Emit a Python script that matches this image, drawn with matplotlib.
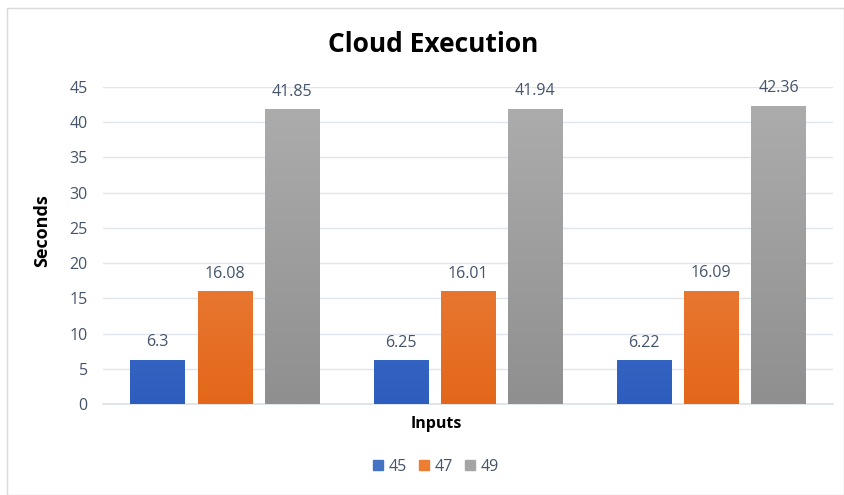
import matplotlib
matplotlib.use("Agg")
import matplotlib.pyplot as plt
import numpy as np
from matplotlib.patches import Rectangle
from matplotlib.colors import LinearSegmentedColormap

categories = ["1", "2", "3"]
series_names = ["45", "47", "49"]
values_45 = [6.3, 6.25, 6.22]
values_47 = [16.08, 16.01, 16.09]
values_49 = [41.85, 41.94, 42.36]
series_values = [values_45, values_47, values_49]
value_labels = [["6.3", "6.25", "6.22"], ["16.08", "16.01", "16.09"], ["41.85", "41.94", "42.36"]]
y_ticks = [0, 5, 10, 15, 20, 25, 30, 35, 40, 45]

colors_top = ["#5E8BD8", "#F29257", "#AEAEAE"]
colors_bot = ["#2D5DBE", "#E3671A", "#8F8F8F"]
legend_colors = ["#4472C4", "#ED7D31", "#A5A5A5"]
text_col = "#44546A"

plt.rcParams['font.family'] = ['Open Sans', 'DejaVu Sans']

fig = plt.figure(figsize=(8.44, 4.95), dpi=100)
fig.patches.append(Rectangle((7/844, 0), 1 - 7/844, 1 - 8/495, transform=fig.transFigure,
                             fill=False, edgecolor="#D9D9D9", linewidth=1.0))
ax = fig.add_axes([103/844, 1 - 404/495, 730/844, (404 - 87)/495])

x = np.arange(len(categories))
offset = 0.276
width = 0.222
for i, (vals, name) in enumerate(zip(series_values, series_names)):
    pos = x + (i - 1) * offset
    bars = ax.bar(pos, vals, width, color="none", edgecolor="none", label=name, zorder=3)
    cmap = LinearSegmentedColormap.from_list("g%d" % i, [colors_bot[i], colors_top[i]])
    for b, lab in zip(bars, value_labels[i]):
        x0, w, h = b.get_x(), b.get_width(), b.get_height()
        grad = np.linspace(0, 1, 256).reshape(-1, 1)
        im = ax.imshow(grad, cmap=cmap, origin="lower", aspect="auto",
                       extent=(x0, x0 + w, 0, 45), zorder=3)
        clip = Rectangle((x0, 0), w, h, transform=ax.transData)
        im.set_clip_path(clip)
        ax.text(x0 + w / 2, h + 1.3, lab, ha="center", va="bottom", fontsize=11.5, color=text_col)

ax.set_xlim(-0.5, 2.5)
ax.set_ylim(0, 45)
ax.set_yticks(y_ticks)
ax.set_yticklabels([str(t) for t in y_ticks], fontsize=11.5, color=text_col)
ax.set_xticks([])
ax.tick_params(axis="y", length=0, pad=11)
ax.grid(axis="y", color="#E1E5EC", linewidth=1, zorder=0)
for s in ["top", "right", "left"]:
    ax.spines[s].set_visible(False)
ax.spines["bottom"].set_color("#DCE1E8")
ax.spines["bottom"].set_linewidth(1.2)
ax.set_aspect("auto")

fig.text(433/844, 1 - 45/495, "Cloud Execution", ha="center", va="center",
         fontsize=19, fontweight="bold", color="#000000")
fig.text(436/844, 1 - 424/495, "Inputs", ha="center", va="center", fontsize=11.5,
         fontweight="bold", color="#000000")
fig.text(42/844, 1 - 231/495, "Seconds", ha="center", va="center", rotation=90,
         fontsize=13, fontweight="bold", color="#000000")

handles = [Rectangle((0, 0), 1, 1, color=c) for c in legend_colors]
fig.legend(handles, series_names, loc="center", bbox_to_anchor=(436/844, 1 - 467/495),
           ncol=3, frameon=False, fontsize=11.5, handlelength=0.6, handleheight=0.6,
           handletextpad=0.35, columnspacing=0.8, labelcolor=text_col)

fig.savefig("out.png", dpi=100)
